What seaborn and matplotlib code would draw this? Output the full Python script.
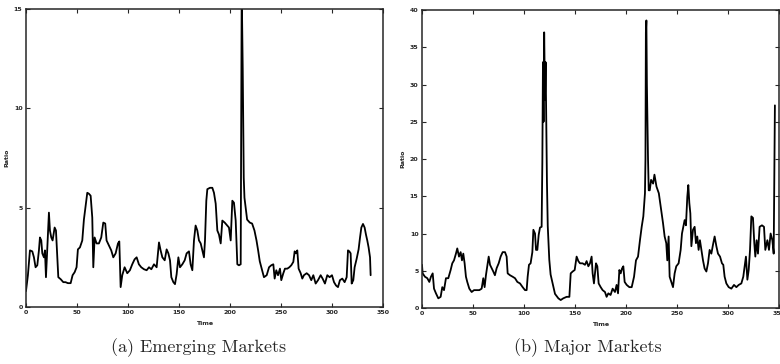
import numpy as np
import pandas as pd
import matplotlib
matplotlib.use("Agg")
import matplotlib.pyplot as plt
import seaborn as sns

# --- data ---
# (a) emerging markets
em_time = [0.0, 0.6, 1.9, 3.9, 6.2, 7.8, 9.4, 11.1, 12.7, 13.7, 15.0, 16.0, 17.6, 18.6, 19.6,
           20.9, 22.5, 23.5, 24.8, 26.1, 28.1, 29.4, 30.7, 31.7, 34.0, 36.6, 38.8, 41.1, 43.8,
           45.7, 47.7, 49.6, 50.9, 52.9, 55.2, 56.8, 58.8, 60.1, 61.7, 63.4, 65.0, 66.0, 67.3,
           69.2, 71.5, 73.8, 75.8, 77.7, 79.0, 81.3, 83.6, 85.6, 87.9, 90.2, 91.5, 92.8, 94.4,
           96.7, 99.3, 101.9, 104.2, 106.5, 108.5, 110.7, 113.0, 115.7, 118.3, 120.6, 122.9,
           125.5, 128.1, 130.4, 132.0, 133.7, 136.0, 137.9, 139.6, 141.2, 142.5, 144.5, 146.1,
           147.7, 149.4, 151.0, 153.3, 155.6, 157.5, 159.8, 161.4, 163.1, 164.7, 166.3, 168.0,
           169.6, 171.3, 172.9, 174.5, 175.5, 176.8, 177.8, 180.4, 182.7, 184.3, 186.0, 187.6,
           189.2, 190.9, 192.5, 194.8, 197.4, 199.0, 200.7, 202.3, 203.9, 205.6, 207.2, 208.8,
           210.5, 211.5, 212.5, 213.5, 214.2, 216.8, 219.4, 221.7, 224.0, 226.0, 227.6, 229.2,
           231.5, 233.3, 236.0, 238.3, 240.5, 242.5, 243.8, 245.4, 247.1, 249.0, 250.3, 252.3,
           253.9, 256.2, 258.2, 260.1, 262.1, 263.4, 264.7, 266.0, 267.3, 269.3, 270.9, 272.5,
           275.2, 277.5, 279.7, 281.7, 284.0, 286.3, 288.9, 290.8, 293.1, 295.4, 297.7, 300.0,
           302.0, 304.0, 305.9, 307.8, 310.1, 312.4, 314.4, 315.7, 317.0, 318.3, 319.3, 320.9,
           322.2, 324.2, 326.1, 327.5, 328.8, 330.4, 332.0, 333.3, 334.6, 335.9, 337.3, 337.9]
em_ratio = [0.8, 1.05, 1.6, 2.85, 2.8, 2.5, 2.0, 2.1, 2.85, 3.5, 3.35, 2.7, 2.5, 2.85, 1.5,
            3.0, 4.75, 3.85, 3.5, 3.35, 4.0, 3.85, 2.5, 1.5, 1.4, 1.25, 1.25, 1.2, 1.2,
            1.6, 1.75, 2.0, 2.9, 3.0, 3.35, 4.4, 5.2, 5.75, 5.7, 5.6, 4.5, 2.0, 3.5,
            3.2, 3.2, 3.5, 4.25, 4.2, 3.35, 3.1, 2.85, 2.5, 2.7, 3.2, 3.3, 1.0, 1.6,
            2.0, 1.7, 1.85, 2.15, 2.4, 2.5, 2.15, 2.0, 1.9, 1.85, 2.0, 1.9,
            2.15, 2.0, 3.25, 2.85, 2.5, 2.35, 2.9, 2.7, 2.35, 1.5, 1.25, 1.15,
            1.65, 2.5, 2.0, 2.15, 2.35, 2.7, 2.8, 2.15, 1.85, 3.35, 4.1, 3.85,
            3.35, 3.2, 2.85, 2.5, 3.35, 5.35, 5.93, 6.0, 6.0, 5.75, 5.2, 3.85,
            3.65, 3.2, 4.35, 4.25, 4.1, 4.0, 3.35, 5.35, 5.25, 4.35, 2.15, 2.1,
            2.15, 16.0, 12.0, 6.5, 5.5, 4.4, 4.25, 4.2, 3.85, 3.35, 2.85, 2.3,
            1.85, 1.5, 1.6, 2.0, 2.1, 2.15, 1.43, 1.85, 1.6, 1.93, 1.35, 1.7,
            1.93, 1.93, 2.0, 2.1, 2.27, 2.8, 2.7, 2.85, 1.93, 1.7, 1.43, 1.6,
            1.7, 1.6, 1.35, 1.6, 1.18, 1.35, 1.6, 1.43, 1.18, 1.6, 1.5, 1.6,
            1.25, 1.08, 1.0, 1.35, 1.43, 1.25, 1.5, 2.85, 2.8, 2.7, 1.18, 1.35,
            2.0, 2.43, 2.9, 3.5, 4.0, 4.18, 4.0, 3.65, 3.35, 3.0, 2.5, 1.6]

# (b) major markets
mm_time = [0.0, 0.65, 2.9, 5.2, 7.2, 8.8, 10.5, 11.8, 13.7, 16.0, 18.3, 19.9, 21.6, 23.5, 25.8,
           28.1, 29.7, 31.4, 33.3, 34.6, 36.3, 37.9, 39.2, 40.5, 41.8, 43.1, 44.4, 46.4, 48.7,
           51.0, 53.6, 56.2, 58.5, 60.1, 61.4, 62.7, 64.4, 65.4, 66.7, 68.3, 69.9, 71.5, 73.2,
           75.2, 77.1, 79.1, 81.4, 83.0, 84.0, 86.3, 88.9, 91.2, 93.5, 96.1, 98.7, 101.0, 102.6,
           103.6, 104.9, 106.5, 108.2, 109.2, 110.8, 111.8, 113.1, 114.4, 115.7, 117.3, 118.0,
           118.6, 119.2, 119.8, 120.6, 121.2, 122.0, 122.5, 123.3, 124.8, 126.1, 128.1, 130.4,
           133.7, 136.0, 138.5, 141.8, 144.5, 145.8, 147.7, 149.7, 151.6, 153.3, 154.9, 157.5,
           159.8, 161.4, 163.1, 164.7, 166.3, 167.3, 168.6, 170.6, 171.9, 173.2, 175.2, 177.1,
           179.4, 181.0, 182.7, 184.9, 186.9, 189.2, 190.8, 192.2, 193.5, 194.8, 196.1, 197.4,
           198.7, 200.7, 203.3, 205.6, 207.9, 209.8, 211.8, 213.7, 215.4, 217.0, 218.6, 219.1,
           219.5, 220.0, 220.5, 221.0, 221.6, 222.3, 223.3, 224.6, 226.6, 227.9, 229.9, 232.2,
           234.6, 236.3, 237.9, 239.5, 240.5, 241.8, 242.8, 244.4, 246.1, 247.7, 249.3, 251.6,
           253.6, 254.9, 256.2, 257.5, 258.8, 260.1, 261.1, 262.1, 263.1, 264.1, 265.7, 267.3,
           268.6, 269.9, 271.2, 272.5, 273.9, 275.5, 277.1, 278.8, 280.4, 282.0, 283.7, 285.3,
           286.9, 288.6, 290.2, 292.2, 294.1, 295.4, 296.7, 298.4, 300.7, 303.3, 305.9, 308.2,
           310.5, 313.1, 315.0, 316.3, 317.6, 319.0, 320.3, 321.6, 322.9, 324.5, 325.8, 326.8,
           328.1, 329.4, 331.0, 333.3, 335.3, 336.6, 338.6, 340.2, 341.8, 343.5, 344.8, 346.0]
mm_ratio = [5.8, 4.65, 4.2, 4.0, 3.5, 4.2, 4.65, 2.6, 1.97, 1.3, 1.5, 2.8, 2.4, 4.0, 4.0,
            5.1, 6.0, 6.4, 7.3, 8.0, 6.9, 7.5, 6.4, 7.3, 6.0, 4.2, 3.5, 2.6, 2.15,
            2.4, 2.4, 2.4, 2.6, 4.0, 2.8, 4.4, 6.0, 6.9, 5.8, 5.35, 4.9, 4.4, 5.35,
            6.0, 6.9, 7.5, 7.5, 6.9, 4.65, 4.4, 4.2, 4.0, 3.5, 3.3, 2.8, 2.4, 2.4,
            4.2, 5.8, 6.0, 7.5, 10.5, 10.0, 7.8, 7.8, 9.8, 10.8, 10.9, 19.6,
            33.0, 25.0, 37.0, 28.0, 33.0, 22.5, 17.0, 11.0, 6.5, 4.5, 3.3, 1.9,
            1.3, 1.07, 1.3, 1.5, 1.5, 4.65, 4.9, 5.1, 6.9, 6.3, 6.0, 6.0,
            5.8, 6.3, 5.6, 6.0, 6.9, 4.65, 3.3, 6.0, 5.6, 3.3, 2.8, 2.4,
            2.15, 1.5, 1.97, 1.75, 2.6, 2.15, 3.1, 1.97, 5.1, 4.65, 5.3, 5.6,
            3.5, 3.1, 2.8, 2.8, 4.2, 6.4, 6.9, 9.1, 10.9, 12.3, 15.4, 20.0,
            37.0, 38.6, 30.0, 25.0, 20.0, 15.8, 15.8, 17.2, 16.7, 17.9, 16.3, 15.4,
            13.1, 11.4, 9.6, 8.7, 6.4, 9.6, 4.2, 3.5, 2.8, 4.65, 5.6, 6.0,
            7.8, 10.0, 10.9, 11.8, 11.1, 14.9, 16.5, 14.1, 12.7, 8.3, 10.5, 10.9,
            8.7, 9.6, 7.8, 9.1, 7.8, 6.4, 5.3, 4.9, 6.0, 7.8, 7.3, 8.5,
            9.6, 8.3, 7.3, 6.9, 6.0, 5.8, 4.2, 3.3, 2.8, 2.6, 3.1, 2.8,
            3.1, 3.3, 4.2, 5.6, 6.9, 3.8, 5.1, 7.8, 12.3, 12.1, 8.7, 6.9,
            9.1, 7.3, 10.9, 11.1, 10.9, 7.8, 9.1, 7.8, 10.0, 9.1, 7.3, 27.2]

x_ticks = [0, 50, 100, 150, 200, 250, 300, 350]
em_yticks = [0, 5, 10, 15]
mm_yticks = [0, 5, 10, 15, 20, 25, 30, 35, 40]
captions = ["(a) Emerging Markets", "(b) Major Markets"]

sns.set_style("ticks")
plt.rcParams["font.family"] = ["DejaVu Sans"]

fig = plt.figure(figsize=(7.8, 3.64), dpi=100)
ax_a = fig.add_axes([0.0333, 0.1566, 0.4577, 0.8187])
ax_b = fig.add_axes([0.541, 0.1538, 0.4577, 0.8187])

panels = [
    (ax_a, em_time, em_ratio, em_yticks, 15),
    (ax_b, mm_time, mm_ratio, mm_yticks, 40),
]

for ax, t, r, yt, ytop in panels:
    df = pd.DataFrame({"Time": t, "Ratio": r})
    sns.lineplot(data=df, x="Time", y="Ratio", ax=ax, color="black",
                 linewidth=1.3, estimator=None, sort=False)
    ax.set_xlim(0, 350)
    ax.set_ylim(0, ytop)
    ax.set_xticks(x_ticks)
    ax.set_yticks(yt)
    ax.tick_params(direction="in", length=3, width=0.8, top=True, right=True,
                   labelsize=4.5, pad=2.5)
    for lab in ax.get_xticklabels() + ax.get_yticklabels():
        lab.set_fontweight("bold")
    for sp in ax.spines.values():
        sp.set_visible(True)
        sp.set_linewidth(1.1)
    ax.set_xlabel("Time", fontsize=4.5, fontweight="bold", labelpad=4)
    ax.set_ylabel("Ratio", fontsize=4.5, fontweight="bold", labelpad=3)

fig.text(0.254, 0.044, captions[0], ha="center", va="center",
         fontsize=13, family=["cmr10", "DejaVu Serif"])
fig.text(0.754, 0.044, captions[1], ha="center", va="center",
         fontsize=13, family=["cmr10", "DejaVu Serif"])

fig.savefig("out.png", dpi=100)
